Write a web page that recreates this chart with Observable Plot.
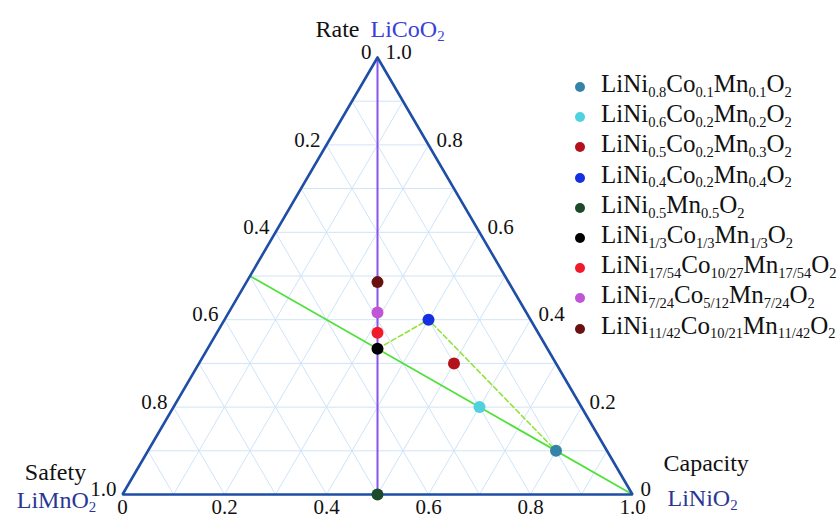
<!DOCTYPE html>
<html><head><meta charset="utf-8">
<script src="https://cdn.jsdelivr.net/npm/d3@7"></script>
<script src="https://cdn.jsdelivr.net/npm/@observablehq/plot@0.6"></script>
<style>
body{margin:0;background:#fff;}
#wrap{position:relative;width:839px;height:518px;overflow:hidden;font-family:"Liberation Serif","Times New Roman",serif;}
#chart{position:absolute;left:0;top:0;}
#legend{position:absolute;left:572px;top:69px;}
.row{position:relative;height:30.2px;line-height:30.2px;font-size:25px;white-space:nowrap;color:#111;}
.row .dot{position:absolute;left:3px;top:13px;width:10px;height:10px;border-radius:50%;}
.row .lab{position:absolute;left:29px;top:0;}
.row sub{font-size:0.58em;vertical-align:baseline;position:relative;top:0.34em;}
</style></head><body><div id="wrap"><div id="chart"></div><div id="legend"></div></div>
<script>
// ---- data ----
const compounds = [
  "LiNi_{0.8}Co_{0.1}Mn_{0.1}O_{2}",
  "LiNi_{0.6}Co_{0.2}Mn_{0.2}O_{2}",
  "LiNi_{0.5}Co_{0.2}Mn_{0.3}O_{2}",
  "LiNi_{0.4}Co_{0.2}Mn_{0.4}O_{2}",
  "LiNi_{0.5}Mn_{0.5}O_{2}",
  "LiNi_{1/3}Co_{1/3}Mn_{1/3}O_{2}",
  "LiNi_{17/54}Co_{10/27}Mn_{17/54}O_{2}",
  "LiNi_{7/24}Co_{5/12}Mn_{7/24}O_{2}",
  "LiNi_{11/42}Co_{10/21}Mn_{11/42}O_{2}"
];
// plotted position (Ni fraction, Co fraction), Mn = 1 - Ni - Co
const pointNi = [0.8, 0.6, 0.5, 0.4, 0.5, 1/3, 17/54, 7/24, 0.257];
const pointCo = [0.1, 0.2, 0.3, 0.4, 0.0, 1/3, 10/27, 5/12, 0.486];
const pointColors = ["#3584a8", "#4fd2de", "#b3121b", "#1530e0", "#1c4a2a", "#000000", "#f01a2b", "#c055d6", "#6b1010"];
const gridLevels = [0.1, 0.2, 0.3, 0.4, 0.5, 0.6, 0.7, 0.8, 0.9];
const tickValues = [0, 0.2, 0.4, 0.6, 0.8, 1.0];
const outlineNi = [0, 0, 1, 0];
const outlineCo = [1, 0, 0, 1];
const coMnLineNi = [0, 1];          // Co = Mn
const coMnLineCo = [0.5, 0];
const niMnLineNi = [0, 0.5];        // Ni = Mn
const niMnLineCo = [1, 0];
const dashNi = [1/3, 0.4, 0.8];
const dashCo = [1/3, 0.4, 0.1];

// ---- ternary -> cartesian (data space) ----
const TX = (ni, co) => ni + co / 2;
const TY = (ni, co) => co;
const pts = (nis, cos) => nis.map((n, i) => ({x: TX(n, cos[i]), y: TY(n, cos[i])}));

const points = pointNi.map((n, i) => ({x: TX(n, pointCo[i]), y: TY(n, pointCo[i]), color: pointColors[i]}));
const grid = [];
gridLevels.forEach(k => {
  grid.push({x1: TX(0, k), y1: k, x2: TX(1 - k, k), y2: k});           // constant Co
  grid.push({x1: TX(k, 0), y1: 0, x2: TX(k, 1 - k), y2: 1 - k});       // constant Ni
  grid.push({x1: TX(1 - k, 0), y1: 0, x2: TX(0, 1 - k), y2: 1 - k});   // constant Mn
});
const fmt = t => t === 0 ? "0" : t.toFixed(1);
const serif = "Liberation Serif";

const chart = Plot.plot({
  width: 839, height: 518,
  marginLeft: 122, marginRight: 207, marginTop: 57, marginBottom: 24,
  x: {domain: [0, 1], axis: null},
  y: {domain: [0, 1], axis: null},
  style: {background: "white", overflow: "visible", fontFamily: "'Liberation Serif', serif"},
  marks: [
    Plot.link(grid, {x1: "x1", y1: "y1", x2: "x2", y2: "y2", stroke: "#cfe4f8", strokeWidth: 1}),
    Plot.line(pts(niMnLineNi, niMnLineCo), {x: "x", y: "y", stroke: "#8a52ee", strokeWidth: 2}),
    Plot.line(pts(coMnLineNi, coMnLineCo), {x: "x", y: "y", stroke: "#4fe13c", strokeWidth: 1.8}),
    Plot.line(pts(dashNi, dashCo), {x: "x", y: "y", stroke: "#8fe43c", strokeWidth: 1.6, strokeDasharray: "5,3"}),
    Plot.line(pts(outlineNi, outlineCo), {x: "x", y: "y", stroke: "#1f4ea6", strokeWidth: 2.6, strokeLinejoin: "miter"}),
    Plot.dot(points, {x: "x", y: "y", r: 6, fill: "color", stroke: "none"}),
    // bottom (Ni) tick labels
    Plot.text(tickValues, {x: t => TX(t, 0), y: t => TY(t, 0), text: fmt, textAnchor: "middle", lineAnchor: "top", dy: 5, fontSize: 21, fill: "#111"}),
    // left (Mn) tick labels
    Plot.text(tickValues, {x: t => TX(0, 1 - t), y: t => TY(0, 1 - t), text: fmt, textAnchor: "end", lineAnchor: "middle", dx: -6, dy: -5, fontSize: 21, fill: "#111"}),
    // right (Co) tick labels
    Plot.text(tickValues, {x: t => TX(1 - t, t), y: t => TY(1 - t, t), text: fmt, textAnchor: "start", lineAnchor: "middle", dx: 8, dy: -5, fontSize: 21, fill: "#111"}),
    // corner titles
    Plot.text(["Rate"], {x: TX(0, 1), y: TY(0, 1), text: d => d, textAnchor: "end", lineAnchor: "bottom", dx: -18, dy: -21, fontSize: 24, fill: "#111"}),
    Plot.text(["LiCoO_2"], {x: TX(0, 1), y: TY(0, 1), text: d => d, textAnchor: "start", lineAnchor: "bottom", dx: -7, dy: -21, fontSize: 24, fill: "#3a3fd8"}),
    Plot.text(["Safety"], {x: TX(0, 0), y: TY(0, 0), text: d => d, textAnchor: "middle", lineAnchor: "bottom", dx: -67, dy: -15, fontSize: 24, fill: "#111"}),
    Plot.text(["LiMnO_2"], {x: TX(0, 0), y: TY(0, 0), text: d => d, textAnchor: "middle", lineAnchor: "bottom", dx: -66, dy: 13, fontSize: 24, fill: "#2b3596"}),
    Plot.text(["Capacity"], {x: TX(1, 0), y: TY(1, 0), text: d => d, textAnchor: "start", lineAnchor: "bottom", dx: 31, dy: -24, fontSize: 24, fill: "#111"}),
    Plot.text(["LiNiO_2"], {x: TX(1, 0), y: TY(1, 0), text: d => d, textAnchor: "start", lineAnchor: "bottom", dx: 35, dy: 11, fontSize: 24, fill: "#2b3596"})
  ]
});

// serif font on every text + subscripts
const ns = "http://www.w3.org/2000/svg";
chart.querySelectorAll("g[aria-label=text]").forEach(g => g.style.fontFamily = "'Liberation Serif', serif");
chart.querySelectorAll("text").forEach(t => {
  t.style.fontFamily = "'Liberation Serif', serif";
  const s = t.textContent;
  if (!s.includes("_")) return;
  const [main, sub] = s.split("_");
  t.textContent = "";
  const a = document.createElementNS(ns, "tspan"); a.textContent = main; t.appendChild(a);
  const b = document.createElementNS(ns, "tspan"); b.setAttribute("dy", "0.33em"); b.style.fontSize = "0.62em"; b.textContent = sub; t.appendChild(b);
});
document.getElementById("chart").appendChild(chart);

// legend
const legend = document.getElementById("legend");
compounds.forEach((c, i) => {
  const row = document.createElement("div"); row.className = "row";
  const dot = document.createElement("span"); dot.className = "dot"; dot.style.background = pointColors[i];
  const lab = document.createElement("span"); lab.className = "lab";
  lab.innerHTML = c.replace(/_\{([^}]*)\}/g, "<sub>$1</sub>");
  row.appendChild(dot); row.appendChild(lab); legend.appendChild(row);
});
</script></body></html>
